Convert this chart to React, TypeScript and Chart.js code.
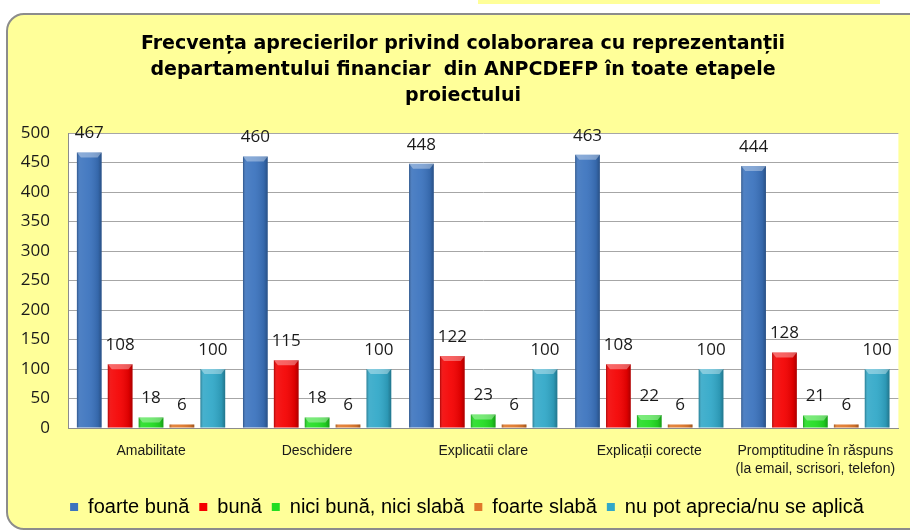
import React, { useEffect, useRef } from "react";
import { Chart, registerables } from "chart.js";

Chart.register(...registerables);

const titleLines = [
  "Frecvența aprecierilor privind colaborarea cu reprezentanții",
  "departamentului financiar  din ANPCDEFP în toate etapele",
  "proiectului",
];
const categories: string[][] = [
  ["Amabilitate"],
  ["Deschidere"],
  ["Explicatii clare"],
  ["Explicații corecte"],
  ["Promptitudine în răspuns", "(la email, scrisori, telefon)"],
];
const seriesNames = [
  "foarte bună",
  "bună",
  "nici bună, nici slabă",
  "foarte slabă",
  "nu pot aprecia/nu se aplică",
];
const foarteBuna = [467, 460, 448, 463, 444];
const buna = [108, 115, 122, 108, 128];
const niciBunaNiciSlaba = [18, 18, 23, 22, 21];
const foarteSlaba = [6, 6, 6, 6, 6];
const nuPotAprecia = [100, 100, 100, 100, 100];
const yMin = 0;
const yMax = 500;
const yStep = 50;

const seriesColors = ["#3B73BE", "#F40000", "#22DD22", "#E0782A", "#31A8C8"];

const chartAreaBg = {
  id: "chartAreaBg",
  beforeDraw(chart: any) {
    const { ctx, chartArea } = chart;
    ctx.save();
    ctx.fillStyle = "#FFFFFF";
    ctx.fillRect(chartArea.left, chartArea.top, chartArea.right - chartArea.left, chartArea.bottom - chartArea.top);
    ctx.restore();
  },
};

// shift the centred title and legend a little to the right, as in the reference
const centreShift = {
  id: "centreShift",
  afterLayout(chart: any) {
    const t = chart.titleBlock;
    if (t) {
      t.left += 4.5;
      t.right += 4.5;
    }
    const l = chart.legend;
    if (l) {
      l.left += 8.5;
      l.right += 8.5;
    }
  },
};

const barShadeAndLabels = {
  id: "barShadeAndLabels",
  afterDatasetsDraw(chart: any) {
    const { ctx } = chart;
    ctx.save();
    chart.data.datasets.forEach((ds: any, di: number) => {
      const meta = chart.getDatasetMeta(di);
      meta.data.forEach((bar: any, i: number) => {
        const { x, y, base, width } = bar.getProps(["x", "y", "base", "width"], true);
        const left = x - width / 2;
        const h = base - y;
        const g = ctx.createLinearGradient(left, 0, left + width, 0);
        g.addColorStop(0, "rgba(0,0,0,0.28)");
        g.addColorStop(0.12, "rgba(255,255,255,0.10)");
        g.addColorStop(0.45, "rgba(255,255,255,0.06)");
        g.addColorStop(0.85, "rgba(0,0,0,0.10)");
        g.addColorStop(1, "rgba(0,0,0,0.30)");
        ctx.fillStyle = g;
        ctx.fillRect(left, y, width, h);
        if (h > 6) {
          ctx.fillStyle = "rgba(255,255,255,0.35)";
          ctx.beginPath();
          ctx.moveTo(left, y);
          ctx.lineTo(left + width, y);
          ctx.lineTo(left + width - 4, y + 5);
          ctx.lineTo(left + 4, y + 5);
          ctx.closePath();
          ctx.fill();
        }
        const v = ds.data[i];
        ctx.fillStyle = "#1A1A1A";
        ctx.font = "17px 'Open Sans', 'Noto Sans', sans-serif";
        ctx.textAlign = "center";
        ctx.textBaseline = "middle";
        ctx.fillText(String(v), x, y - 19);
      });
    });
    ctx.restore();
  },
};

export default function App() {
  const ref = useRef<HTMLCanvasElement | null>(null);
  useEffect(() => {
    if (!ref.current) return;
    const values = [foarteBuna, buna, niciBunaNiciSlaba, foarteSlaba, nuPotAprecia];
    const chart = new Chart(ref.current, {
      type: "bar",
      data: {
        labels: categories,
        datasets: values.map((d, i) => ({
          label: seriesNames[i],
          data: d,
          backgroundColor: seriesColors[i],
          borderWidth: 0,
          categoryPercentage: 0.93,
          barPercentage: 0.8,
        })),
      },
      options: {
        animation: false,
        responsive: false,
        layout: { padding: { left: 16, right: 9, top: 0, bottom: 4 } },
        plugins: {
          tooltip: { enabled: false },
          title: {
            display: true,
            text: titleLines,
            color: "#000000",
            font: { family: "'DejaVu Sans', Verdana, sans-serif", size: 19, weight: "bold", lineHeight: 26 / 19 },
            padding: { top: 31, bottom: 24 },
          },
          legend: {
            display: true,
            position: "bottom",
            labels: {
              color: "#000000",
              font: { family: "'Liberation Sans', Arial, sans-serif", size: 20 },
              boxWidth: 8,
              boxHeight: 8,
              padding: 10,
            },
          },
        },
        scales: {
          x: {
            grid: { display: false, drawTicks: false },
            border: { display: true, color: "#8C8C8C" },
            ticks: {
              color: "#1A1A1A",
              font: { family: "'Liberation Sans Narrow', 'Arial Narrow', 'Liberation Sans', sans-serif", size: 14, lineHeight: 1.3 },
              padding: 14,
              maxRotation: 0,
              autoSkip: false,
            },
            afterFit(scale: any) {
              scale.height = 59;
            },
          },
          y: {
            min: yMin,
            max: yMax,
            grid: { color: "#A6A6A6", drawTicks: false },
            border: { display: true, color: "#8C8C8C" },
            ticks: {
              stepSize: yStep,
              color: "#1A1A1A",
              font: { family: "'Open Sans', 'Noto Sans', sans-serif", size: 17 },
              padding: 18,
            },
            afterFit(scale: any) {
              scale.width = 52;
            },
          },
        },
      },
      plugins: [chartAreaBg, centreShift, barShadeAndLabels],
    });
    return () => chart.destroy();
  }, []);

  return (
    <div style={{ position: "fixed", left: 0, top: 0, width: 910, height: 531, background: "#FFFFFF", overflow: "hidden" }}>
      <div style={{ position: "absolute", left: 478, top: 0, width: 402, height: 4, background: "#FFFF99" }} />
      <div
        style={{
          position: "absolute",
          left: 6,
          top: 13,
          width: 920,
          height: 517,
          boxSizing: "border-box",
          border: "2px solid #8C8C8C",
          borderRadius: 18,
          background: "#FFFF99",
        }}
      />
      <canvas ref={ref} width={910} height={531} style={{ position: "absolute", left: 0, top: 0, width: 910, height: 531 }} />
    </div>
  );
}
